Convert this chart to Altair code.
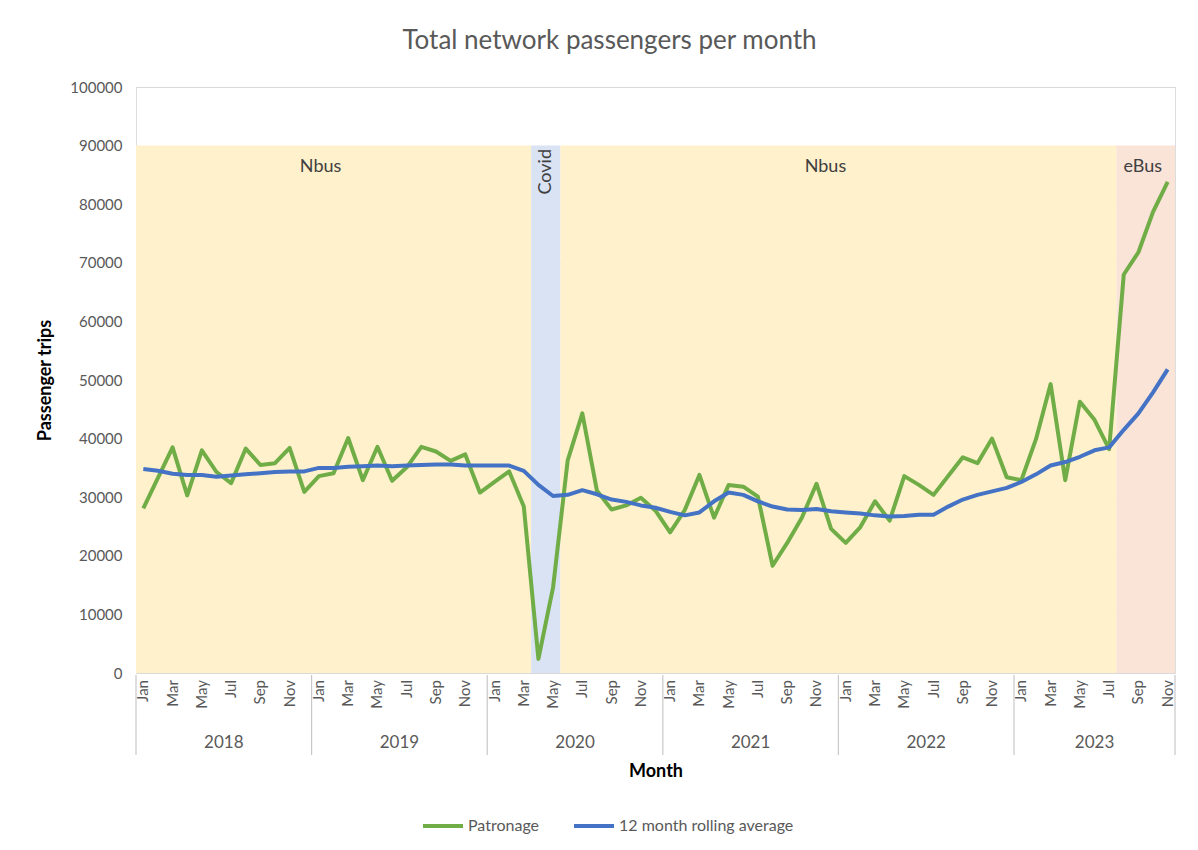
import altair as alt
import pandas as pd

MONTHS = ["Jan", "Feb", "Mar", "Apr", "May", "Jun", "Jul", "Aug", "Sep", "Oct", "Nov", "Dec"]
YEARS = [2018, 2019, 2020, 2021, 2022, 2023]

patronage = [
    28100, 33300, 38500, 30300, 38000, 34300, 32400, 38300, 35500, 35800, 38400, 30900,
    33600, 34100, 40100, 32900, 38600, 32800, 35100, 38600, 37800, 36200, 37300, 30800,
    32600, 34400, 28400, 2400, 14600, 36300, 44300, 31100, 27900, 28600, 29900, 27700,
    24000, 27800, 33800, 26500, 32100, 31800, 30100, 18300, 22200, 26500, 32300, 24600,
    22200, 24900, 29300, 26000, 33600, 32100, 30400, 33600, 36800, 35800, 40000, 33400,
    32900, 39900, 49300, 32900, 46300, 43200, 38200, 68000, 71800, 78700, 83800,
]
rolling = [
    34800, 34500, 34000, 33800, 33800, 33500, 33700, 33900, 34100, 34300, 34400, 34400,
    35000, 35000, 35200, 35300, 35400, 35300, 35400, 35500, 35600, 35600, 35400, 35400,
    35400, 35400, 34500, 32100, 30200, 30400, 31200, 30500, 29600, 29200, 28600, 28200,
    27500, 26900, 27400, 29300, 30800, 30400, 29300, 28400, 27900, 27800, 28000, 27600,
    27400, 27200, 26900, 26700, 26800, 27000, 27000, 28400, 29600, 30400, 31000, 31600,
    32600, 33900, 35400, 36000, 36900, 38000, 38500, 41500, 44300, 47900, 51800,
]
SERIES = ["Patronage", "12 month rolling average"]
SERIES_COLORS = ["#70AD47", "#4472C4"]

# Background periods (month index boundaries)
band_names = ["Nbus", "Covid", "Nbus", "eBus"]
band_start = [-0.5, 26.5, 28.5, 66.5]
band_end = [26.5, 28.5, 66.5, 70.5]
band_colors = ["#FFF1CC", "#DAE3F3", "#FFF1CC", "#FAE3D7"]
BAND_TOP = 90000

FONT = "Lato"
GREY = "#595959"

n = len(patronage)
rows = []
for i in range(n):
    rows.append({"idx": i, "series": SERIES[0], "value": patronage[i]})
    rows.append({"idx": i, "series": SERIES[1], "value": rolling[i]})
lines_df = pd.DataFrame(rows)

bands_df = pd.DataFrame({
    "name": band_names, "start": band_start, "end": band_end,
    "color": band_colors, "top": [BAND_TOP] * 4, "bottom": [0] * 4,
})
years_df = pd.DataFrame({
    "year": [str(y) for y in YEARS],
    "start": [i * 12 - 0.5 for i in range(len(YEARS))],
    "end": [min(i * 12 + 11.5, n - 0.5) for i in range(len(YEARS))],
})
bounds_df = pd.DataFrame({"b": [i * 12 - 0.5 for i in range(len(YEARS))] + [n - 0.5]})
month_labels_df = pd.DataFrame({
    "idx": list(range(0, n, 2)),
    "label": [MONTHS[i % 12] for i in range(0, n, 2)],
})

W, H = 1039, 586

xscale = alt.Scale(domain=[-0.5, n - 0.5], nice=False, zero=False)
yscale = alt.Scale(domain=[0, 100000], nice=False)

x_axis = alt.Axis(
    labels=False, ticks=False, grid=False,
    domainColor="#D9D9D9", title="Month", titleFont=FONT, titleFontSize=18,
    titleFontWeight="bold", titleColor="#000000", titleY=98, titleBaseline="middle",
)
y_axis = alt.Axis(
    values=list(range(0, 100001, 10000)), format="d", labelFontSize=15,
    labelColor=GREY, labelFont=FONT, labelPadding=14, ticks=False, domain=False,
    grid=True, gridColor="#D9D9D9", title="Passenger trips", titleFont=FONT,
    titleFontSize=18, titleFontWeight="bold", titleColor="#000000",
    titleX=-91, titleY=H / 2, titleAngle=270, titleAlign="center", titleBaseline="middle",
)

bands = alt.Chart(bands_df).mark_rect().encode(
    x=alt.X("start:Q", scale=xscale, axis=x_axis),
    x2="end:Q",
    y=alt.Y("bottom:Q", scale=yscale, axis=y_axis),
    y2="top:Q",
    fill=alt.Fill("color:N", scale=None),
)

nbus_labels = alt.Chart(bands_df).transform_filter(
    alt.datum.name == "Nbus"
).transform_calculate(mid="(datum.start + datum.end) / 2").mark_text(
    font=FONT, fontSize=18, color="#404040", baseline="middle", dx=-13
).encode(
    x=alt.X("mid:Q", scale=xscale), y=alt.value(80), text="name:N"
)

ebus_label = alt.Chart(bands_df).transform_filter(
    alt.datum.name == "eBus"
).transform_calculate(mid="(datum.start + datum.end) / 2").mark_text(
    font=FONT, fontSize=18, color="#404040", baseline="middle", dx=-3
).encode(
    x=alt.X("mid:Q", scale=xscale), y=alt.value(80), text="name:N"
)

covid_label = alt.Chart(bands_df).transform_filter(
    alt.datum.name == "Covid"
).transform_calculate(mid="(datum.start + datum.end) / 2").mark_text(
    font=FONT, fontSize=18, color="#404040", angle=270, align="right", baseline="middle"
).encode(
    x=alt.X("mid:Q", scale=xscale), y=alt.value(62), text="name:N"
)

lines = alt.Chart(lines_df).mark_line(strokeWidth=4, strokeJoin="round").encode(
    x=alt.X("idx:Q", scale=xscale),
    y=alt.Y("value:Q", scale=yscale),
    color=alt.Color(
        "series:N",
        scale=alt.Scale(domain=SERIES, range=SERIES_COLORS),
        sort=SERIES,
        legend=alt.Legend(
            orient="none", legendX=285, legendY=717, direction="horizontal",
            title=None, symbolType="stroke", symbolStrokeWidth=4, symbolSize=1600,
            labelFont=FONT, labelFontSize=16, labelColor=GREY, labelOffset=3,
            labelLimit=400, columnPadding=26,
        ),
    ),
    order="idx:Q",
)

month_text = alt.Chart(month_labels_df).mark_text(
    font=FONT, fontSize=15, color=GREY, angle=270, align="right", baseline="middle"
).encode(
    x=alt.X("idx:Q", scale=xscale), y=alt.value(H + 7), text="label:N"
)

separators = alt.Chart(bounds_df).mark_rule(color="#C8C8C8", strokeWidth=1.2).encode(
    x=alt.X("b:Q", scale=xscale), y=alt.value(H + 2), y2=alt.value(H + 82)
)

year_text = alt.Chart(years_df).transform_calculate(
    mid="(datum.start + datum.end) / 2"
).mark_text(font=FONT, fontSize=17, color=GREY, baseline="middle").encode(
    x=alt.X("mid:Q", scale=xscale), y=alt.value(H + 70), text="year:N"
)

chart = alt.layer(
    bands, nbus_labels, ebus_label, covid_label, lines, month_text, separators, year_text
).properties(
    width=W, height=H,
    title=alt.TitleParams(
        "Total network passengers per month", font=FONT, fontSize=26,
        fontWeight="normal", color=GREY, anchor="middle", dx=-46, offset=26,
    ),
    padding={"left": 128, "top": 79, "right": 15, "bottom": 175},
    autosize=alt.AutoSizeParams(type="none"),
).configure_view(
    strokeWidth=0
).configure(background="white")

chart.save("out.html", embed_options={"renderer": "svg", "actions": False})
